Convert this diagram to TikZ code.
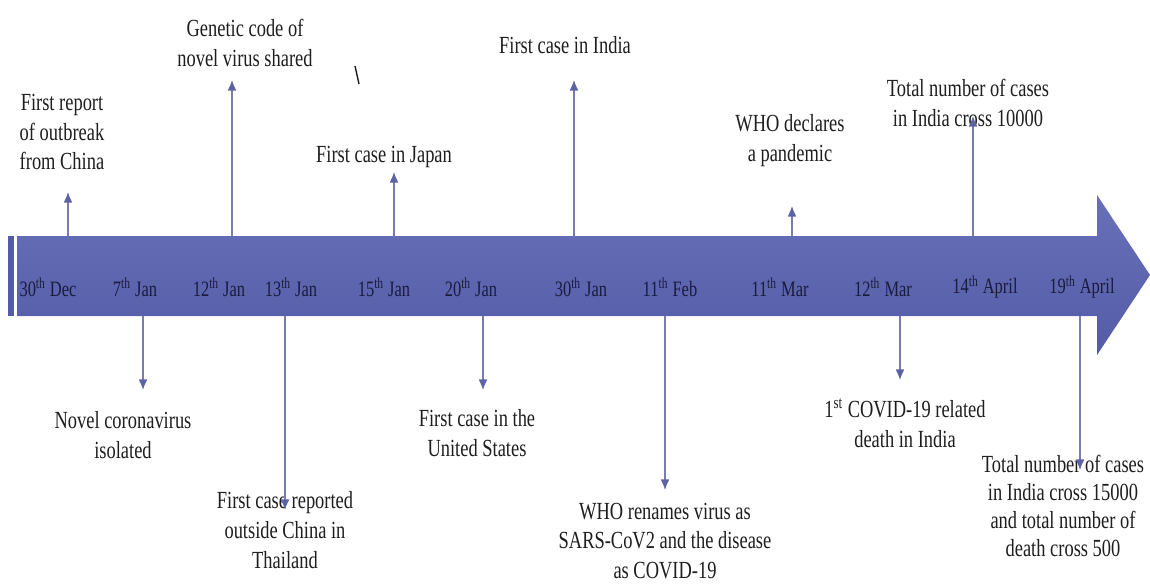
\documentclass[tikz,border=0pt]{standalone}
\usepackage{fontspec}
\setmainfont[FakeStretch=0.75]{Liberation Serif}
\usetikzlibrary{arrows.meta}
\definecolor{band}{RGB}{84,92,168}
\definecolor{bandtop}{RGB}{104,112,184}
\definecolor{linkc}{RGB}{120,124,176}
\definecolor{tipc}{RGB}{92,98,164}
\definecolor{datec}{RGB}{26,28,60}
\definecolor{txt}{RGB}{30,30,30}
\tikzset{
  event/.style={align=center,font=\fontsize{14}{17}\selectfont,text=txt,inner sep=1pt},
  date/.style={font=\fontsize{12.5}{14}\selectfont,text=datec,inner sep=1pt},
  link/.style={draw=linkc,line width=0.7pt,->}
}

\begin{document}
\begin{tikzpicture}[x=0.02cm,y=-0.02cm,>={Latex[length=6pt,width=5pt,color=tipc]}]
\useasboundingbox (0,0) rectangle (1150,585);
% timeline band
\fill[band] (8,236) rectangle (14,316);
\shade[top color=bandtop,bottom color=band] (17,236) -- (1097,236) -- (1097,195)
  -- (1150,275) -- (1097,355) -- (1097,316) -- (17,316) -- cycle;
%
\node[date] (t1) at (48,287) {30\textsuperscript{th} Dec};
\node[date] (t2) at (135,287) {7\textsuperscript{th} Jan};
\node[date] (t3) at (219,287) {12\textsuperscript{th} Jan};
\node[date] (t4) at (291,287) {13\textsuperscript{th} Jan};
\node[date] (t5) at (384,287) {15\textsuperscript{th} Jan};
\node[date] (t6) at (471,287) {20\textsuperscript{th} Jan};
\node[date] (t7) at (581,287) {30\textsuperscript{th} Jan};
\node[date] (t8) at (670,287) {11\textsuperscript{th} Feb};
\node[date] (t9) at (780,287) {11\textsuperscript{th} Mar};
\node[date] (t10) at (883,287) {12\textsuperscript{th} Mar};
\node[date] (t11) at (985,287) {14\textsuperscript{th} April};
\node[date] (t12) at (1082,287) {19\textsuperscript{th} April};
%
\node[event] (a1) at (62,132) {First report\\of outbreak\\from China};
\node[event] (a2) at (245,43) {Genetic code of\\novel virus shared};
\node[event] (a3) at (384,157) {First case in Japan};
\node[event] (a4) at (565,45) {First case in India};
\node[event] (a5) at (790,141) {WHO declares\\a pandemic};
\node[event] (a6) at (968,103) {Total number of cases\\in India cross 10000};
\node[event] (b1) at (123,435) {Novel coronavirus\\isolated};
\node[event] (b2) at (285,530) {First case reported\\outside China in\\Thailand};
\node[event] (b3) at (477,433) {First case in the\\United States};
\node[event] (b4) at (665,541) {WHO renames virus as\\SARS-CoV2 and the disease\\as COVID-19};
\node[event] (b5) at (905,423) {1\textsuperscript{st} COVID-19 related\\death in India};
\node[event,font=\fontsize{14}{16}\selectfont] (b6) at (1063,506) {Total number of cases\\in India cross 15000\\and total number of\\death cross 500};
%
\coordinate (u1) at (68,236); \coordinate (h1) at (68,192);
\coordinate (u2) at (232,236); \coordinate (h2) at (232,80);
\coordinate (u3) at (394,236); \coordinate (h3) at (394,172);
\coordinate (u4) at (574,236); \coordinate (h4) at (574,80);
\coordinate (u5) at (792,236); \coordinate (h5) at (792,206);
\coordinate (u6) at (973,236); \coordinate (h6) at (973,116);
\coordinate (d1) at (143,316); \coordinate (k1) at (143,390);
\coordinate (d2) at (285,316); \coordinate (k2) at (285,510);
\coordinate (d3) at (483,316); \coordinate (k3) at (483,390);
\coordinate (d4) at (665,316); \coordinate (k4) at (665,490);
\coordinate (d5) at (900,316); \coordinate (k5) at (900,380);
\coordinate (d6) at (1080,316); \coordinate (k6) at (1080,470);
\draw[link] (u1) -- (h1); \draw[link] (u2) -- (h2); \draw[link] (u3) -- (h3);
\draw[link] (u4) -- (h4); \draw[link] (u5) -- (h5); \draw[link] (u6) -- (h6);
\draw[link] (d1) -- (k1); \draw[link] (d2) -- (k2); \draw[link] (d3) -- (k3);
\draw[link] (d4) -- (k4); \draw[link] (d5) -- (k5); \draw[link] (d6) -- (k6);
% stray mark
\draw[txt,line width=0.8pt] (355,66) -- (359,84);
\end{tikzpicture}
\end{document}
